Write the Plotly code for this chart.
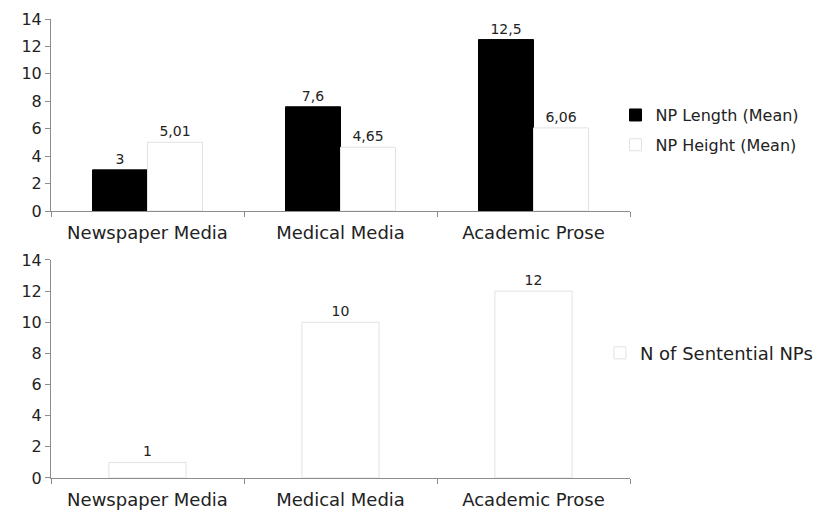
import plotly.graph_objects as go

categories = ["Newspaper Media", "Medical Media", "Academic Prose"]
np_length = [3, 7.6, 12.5]
np_height = [5.01, 4.65, 6.06]
sentential = [1, 10, 12]
y_ticks = [0, 2, 4, 6, 8, 10, 12, 14]

def lab(vals):
    return [(f"{v:g}").replace(".", ",") for v in vals]

FONT = "DejaVu Sans"
TXT = "#222222"
AX = "#8c8c8c"

fig = go.Figure()
fig.add_trace(go.Bar(x=categories, y=np_length, name="NP Length (Mean)",
                     marker=dict(color="black", line=dict(color="black", width=1)),
                     text=lab(np_length), textposition="outside",
                     textfont=dict(size=14, color=TXT), cliponaxis=False,
                     xaxis="x", yaxis="y", legend="legend", legendgroup="a"))
fig.add_trace(go.Bar(x=categories, y=np_height, name="NP Height (Mean)",
                     marker=dict(color="white", line=dict(color="#e2e2e2", width=1)),
                     text=lab(np_height), textposition="outside",
                     textfont=dict(size=14, color=TXT), cliponaxis=False,
                     xaxis="x", yaxis="y", legend="legend", legendgroup="b"))
fig.add_trace(go.Bar(x=categories, y=sentential, name="N of Sentential NPs",
                     marker=dict(color="white", line=dict(color="#e2e2e2", width=1)),
                     text=lab(sentential), textposition="outside",
                     textfont=dict(size=14, color=TXT), cliponaxis=False,
                     xaxis="x2", yaxis="y2", legend="legend2", width=0.4))

yaxis_common = dict(showline=True, linecolor=AX, linewidth=1, ticks="outside",
                    ticklen=5, tickcolor=AX, showgrid=False, zeroline=False,
                    tickfont=dict(size=16, color=TXT, family=FONT))
xaxis_common = dict(showline=True, linecolor=AX, linewidth=1, ticks="outside",
                    ticklen=5, tickcolor=AX, showgrid=False, zeroline=False,
                    type="category", tickson="boundaries", ticklabelstandoff=5,
                    tickfont=dict(size=18, color=TXT, family=FONT))

fig.update_layout(
    width=817, height=513,
    margin=dict(l=51, r=187, t=19, b=35, autoexpand=False),
    paper_bgcolor="white", plot_bgcolor="white",
    font=dict(family=FONT, color=TXT),
    barmode="group", bargap=0.43, bargroupgap=0,
    xaxis=dict(domain=[0, 1], anchor="y", **xaxis_common),
    yaxis=dict(domain=[0.5817, 1], anchor="x", range=[0, 14], tickvals=y_ticks, **yaxis_common),
    xaxis2=dict(domain=[0, 1], anchor="y2", **xaxis_common),
    yaxis2=dict(domain=[0, 0.475], anchor="x2", range=[0, 14], tickvals=y_ticks, **yaxis_common),
    legend=dict(x=0.975, xanchor="left", y=0.758, yanchor="middle",
                font=dict(size=16, color=TXT, family=FONT), itemwidth=30,
                traceorder="grouped", tracegroupgap=6, bgcolor="rgba(0,0,0,0)"),
    legend2=dict(x=0.948, xanchor="left", y=0.272, yanchor="middle",
                 font=dict(size=18, color=TXT, family=FONT), itemwidth=30,
                 bgcolor="rgba(0,0,0,0)"),
    showlegend=True,
)

fig.write_html("out.html")
